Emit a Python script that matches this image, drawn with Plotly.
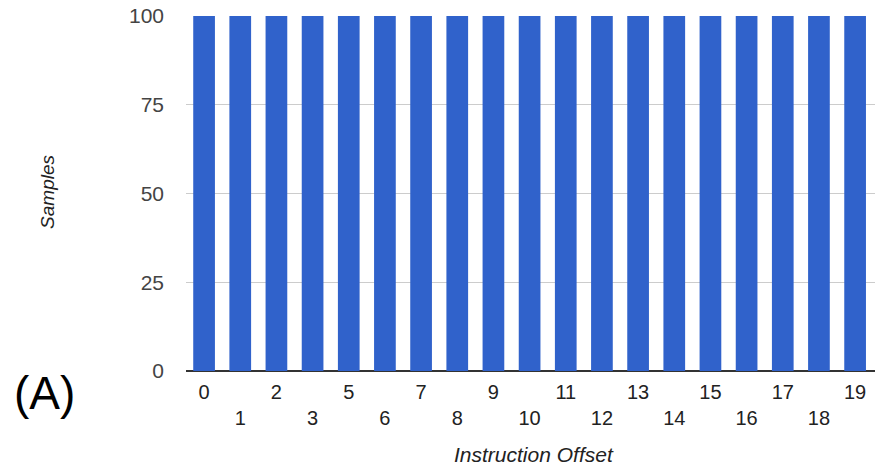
import plotly.graph_objects as go

# Instruction offsets sampled (offset 4 absent) and their sample counts
offsets = ["0", "1", "2", "3", "5", "6", "7", "8", "9", "10",
           "11", "12", "13", "14", "15", "16", "17", "18", "19"]
samples = [100] * len(offsets)
y_ticks = [0, 25, 50, 75, 100]

# Stagger alternate category labels onto a second row
tick_text = [t if i % 2 == 0 else "<br>" + t for i, t in enumerate(offsets)]

font_family = "Liberation Sans, Arial, sans-serif"

fig = go.Figure(
    go.Bar(
        x=offsets,
        y=samples,
        marker=dict(color="#3062cb", line=dict(width=0)),
        hoverinfo="x+y",
    )
)

fig.update_layout(
    width=875,
    height=466,
    margin=dict(l=186, r=0, t=16, b=95),
    paper_bgcolor="white",
    plot_bgcolor="white",
    bargap=0.4,
    showlegend=False,
    font=dict(family=font_family, color="#333333"),
    annotations=[
        dict(text="<i>Instruction Offset</i>", xref="paper", yref="paper",
             x=0.505, y=-0.234, xanchor="center", yanchor="middle",
             showarrow=False, font=dict(size=21, color="#222222")),
        dict(text="<i>Samples</i>", xref="paper", yref="paper",
             x=-0.2, y=0.505, xanchor="center", yanchor="middle",
             textangle=-90, showarrow=False,
             font=dict(size=19, color="#222222")),
        dict(text="(A)", xref="paper", yref="paper",
             x=-0.205, y=-0.062, xanchor="center", yanchor="middle",
             showarrow=False, font=dict(size=46, color="black")),
    ],
)

fig.update_xaxes(
    type="category",
    tickmode="array",
    tickvals=offsets,
    ticktext=tick_text,
    range=[-0.5, 18.55],
    showgrid=False,
    showline=False,
    ticks="",
    tickfont=dict(size=20, color="#222222"),
    tickangle=0,
    ticklabelstandoff=7,
)

fig.update_yaxes(
    range=[0, 100],
    tickvals=y_ticks,
    showgrid=True,
    gridcolor="#cccccc",
    gridwidth=1,
    zeroline=True,
    zerolinecolor="#333333",
    zerolinewidth=2,
    showline=False,
    ticks="",
    tickfont=dict(size=21, color="#444444"),
    ticklabelstandoff=21,
)

fig.write_html("out.html")
